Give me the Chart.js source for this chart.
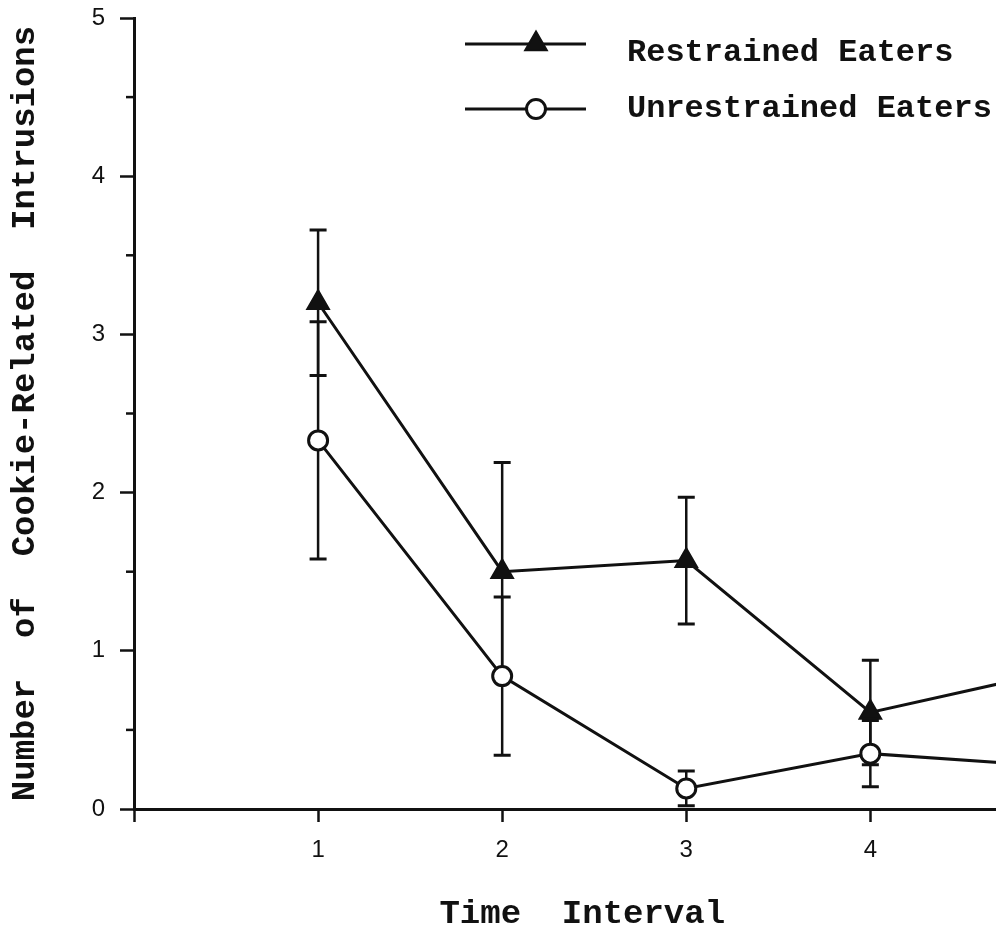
<!DOCTYPE html>
<html>
<head>
<meta charset="utf-8">
<title>Cookie-related intrusions by time interval</title>
<script src="https://cdn.jsdelivr.net/npm/chart.js@4.4.0/dist/chart.umd.min.js"></script>
<style>
  html, body { margin: 0; padding: 0; background: #fff; overflow: hidden; }
  #chart { display: block; }
</style>
</head>
<body>
<canvas id="chart" width="1045" height="933"></canvas>
<script>
// values; interval 5 sits past the cropped right edge
const timeIntervals      = [1, 2, 3, 4, 5];
const restrainedMeans    = [3.20, 1.50, 1.57, 0.61, 0.87];
const restrainedErrors   = [0.46, 0.69, 0.40, 0.33, null];
const unrestrainedMeans  = [2.33, 0.84, 0.13, 0.35, 0.27];
const unrestrainedErrors = [0.75, 0.50, 0.11, 0.21, null];

const seriesLabels = ['Restrained Eaters', 'Unrestrained Eaters'];
const xTitle = 'Time  Interval';
const yTitle = 'Number  of  Cookie-Related  Intrusions';

const INK = '#111';
const MONO = "'Liberation Mono', 'Courier New', monospace";
const SANS = "'Liberation Sans', Arial, sans-serif";

const toPoints = (means) => timeIntervals.map((t, i) => ({ x: t, y: means[i] }));

// vertical error bars with caps, drawn under the markers
const errorBars = {
  id: 'errorBars',
  beforeDatasetsDraw(chart) {
    const { ctx, scales: { x, y } } = chart;
    const sets = [
      [restrainedMeans, restrainedErrors],
      [unrestrainedMeans, unrestrainedErrors],
    ];
    ctx.save();
    ctx.strokeStyle = INK;
    ctx.lineCap = 'butt';
    sets.forEach(([means, errs]) => {
      timeIntervals.forEach((t, i) => {
        if (errs[i] == null) return;
        const px = x.getPixelForValue(t);
        const top = y.getPixelForValue(means[i] + errs[i]);
        const bot = y.getPixelForValue(Math.max(0, means[i] - errs[i]));
        ctx.lineWidth = 2.5;
        ctx.beginPath();
        ctx.moveTo(px, top); ctx.lineTo(px, bot);
        ctx.stroke();
        ctx.lineWidth = 3;
        ctx.beginPath();
        ctx.moveTo(px - 8.5, top); ctx.lineTo(px + 8.5, top);
        ctx.moveTo(px - 8.5, bot); ctx.lineTo(px + 8.5, bot);
        ctx.stroke();
      });
    });
    ctx.restore();
  },
};

// short ticks at the half units of the y axis
const minorTicks = {
  id: 'minorTicks',
  afterDraw(chart) {
    const { ctx, scales: { y } } = chart;
    ctx.save();
    ctx.strokeStyle = INK;
    ctx.lineWidth = 2.5;
    y.ticks.forEach(tk => {
      if (tk.value % 1 === 0) return;
      const py = y.getPixelForValue(tk.value);
      ctx.beginPath();
      ctx.moveTo(y.right - 8, py); ctx.lineTo(y.right, py);
      ctx.stroke();
    });
    ctx.restore();
  },
};

// legend as in the figure: line sample with the marker in its middle
const lineLegend = {
  id: 'lineLegend',
  afterDraw(chart) {
    const { ctx } = chart;
    const rows = [{ lineY: 44, textY: 61 }, { lineY: 109, textY: 117 }];
    ctx.save();
    chart.data.datasets.forEach((ds, i) => {
      const r = rows[i];
      ctx.strokeStyle = INK;
      ctx.lineWidth = 3;
      ctx.beginPath();
      ctx.moveTo(465, r.lineY); ctx.lineTo(586, r.lineY);
      ctx.stroke();
      const mx = 536, my = r.lineY;
      ctx.beginPath();
      if (ds.pointStyle === 'triangle') {
        const rad = ds.pointRadius;
        ctx.moveTo(mx, my - rad);
        ctx.lineTo(mx + rad * Math.sin(2 * Math.PI / 3), my + rad / 2);
        ctx.lineTo(mx - rad * Math.sin(2 * Math.PI / 3), my + rad / 2);
        ctx.closePath();
      } else {
        ctx.arc(mx, my, ds.pointRadius, 0, Math.PI * 2);
      }
      ctx.fillStyle = ds.pointBackgroundColor;
      ctx.fill();
      ctx.lineWidth = ds.pointBorderWidth;
      ctx.stroke();
      ctx.fillStyle = INK;
      ctx.font = `bold 32px ${MONO}`;
      ctx.textAlign = 'left';
      ctx.textBaseline = 'alphabetic';
      ctx.fillText(ds.label, 627, r.textY);
    });
    ctx.restore();
  },
};

new Chart(document.getElementById('chart'), {
  type: 'line',
  data: {
    datasets: [
      {
        label: seriesLabels[0],
        data: toPoints(restrainedMeans),
        borderColor: INK,
        borderWidth: 3,
        pointStyle: 'triangle',
        pointRadius: 12.5,
        pointBackgroundColor: INK,
        pointBorderColor: INK,
        pointBorderWidth: 2,
        tension: 0,
      },
      {
        label: seriesLabels[1],
        data: toPoints(unrestrainedMeans),
        borderColor: INK,
        borderWidth: 3,
        pointStyle: 'circle',
        pointRadius: 9.5,
        pointBackgroundColor: '#fff',
        pointBorderColor: INK,
        pointBorderWidth: 3,
        tension: 0,
      },
    ],
  },
  options: {
    responsive: false,
    devicePixelRatio: 1,
    animation: false,
    events: [],
    layout: { padding: { top: 18, right: 0, left: 0, bottom: 0 } },
    plugins: {
      legend: { display: false },
      tooltip: { enabled: false },
    },
    scales: {
      x: {
        type: 'linear',
        min: 0,
        max: 4.87,
        border: { color: INK, width: 3 },
        grid: { drawOnChartArea: false, drawTicks: true, tickLength: 13, tickColor: INK, tickWidth: 2.5 },
        ticks: {
          stepSize: 1,
          includeBounds: false,
          color: INK,
          padding: 14,
          maxRotation: 0,
          font: { family: SANS, size: 24 },
          callback: v => (v === 0 ? '' : v),
        },
        title: {
          display: true,
          text: xTitle,
          color: INK,
          font: { family: MONO, size: 34, weight: 'bold', lineHeight: 1 },
          padding: { top: 0, bottom: 2 },
        },
        afterFit: s => { s.height = 124; },
      },
      y: {
        min: 0,
        max: 5,
        border: { color: INK, width: 3 },
        grid: {
          drawOnChartArea: false,
          drawTicks: true,
          tickLength: 14,
          tickWidth: 2.5,
          tickColor: c => (c.tick && c.tick.value % 1 === 0 ? INK : 'rgba(0,0,0,0)'),
        },
        ticks: {
          stepSize: 0.5,
          color: INK,
          padding: 15,
          font: { family: SANS, size: 24, lineHeight: 1 },
          callback: v => (v % 1 === 0 ? v : ''),
        },
        title: {
          display: true,
          text: yTitle,
          color: INK,
          font: { family: MONO, size: 34, weight: 'bold', lineHeight: 1 },
          padding: { top: 8, bottom: 0 },
        },
        afterFit: s => { s.width = 134; s.paddingTop = 0; s.paddingBottom = 0; },
      },
    },
  },
  plugins: [errorBars, minorTicks, lineLegend],
});
</script>
</body>
</html>
